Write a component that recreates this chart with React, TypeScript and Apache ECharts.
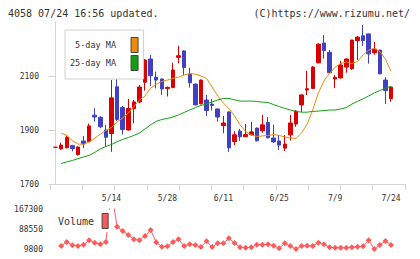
import { useEffect, useRef } from "react";
import * as echarts from "echarts";

// Trading days shown on the chart (one per candle)
const dates = [
  "4/25", "4/26", "4/30", "5/1", "5/2", "5/7", "5/8", "5/9", "5/10", "5/13",
  "5/14", "5/15", "5/16", "5/17", "5/20", "5/21", "5/22", "5/23", "5/24", "5/27",
  "5/28", "5/29", "5/30", "5/31", "6/3", "6/4", "6/5", "6/6", "6/7", "6/10",
  "6/11", "6/12", "6/13", "6/14", "6/17", "6/18", "6/19", "6/20", "6/21", "6/24",
  "6/25", "6/26", "6/27", "6/28", "7/1", "7/2", "7/3", "7/4", "7/5", "7/8",
  "7/9", "7/10", "7/11", "7/12", "7/16", "7/17", "7/18", "7/19", "7/22", "7/23",
  "7/24",
];
const labelledDates = ["5/14", "5/28", "6/11", "6/25", "7/9", "7/24"];

// open, close, low, high
const ohlc: number[][] = [
  [1836, 1836, 1836, 1836], [1830, 1844, 1827, 1853], [1834, 1872, 1832, 1880],
  [1842, 1831, 1821, 1845], [1809, 1837, 1805, 1839], [1859, 1849, 1833, 1878],
  [1857, 1915, 1854, 1924], [1955, 1948, 1931, 1981], [1947, 1912, 1907, 1951],
  [1900, 1873, 1840, 1919], [1887, 2019, 1819, 2085], [2060, 1939, 1933, 2104],
  [1983, 1902, 1883, 1989], [1900, 1980, 1898, 2015], [1979, 2004, 1925, 2011],
  [2004, 2059, 1999, 2067], [2077, 2159, 2046, 2163], [2163, 2101, 2063, 2178],
  [2095, 2085, 2054, 2116], [2089, 2052, 2030, 2091], [2054, 2058, 2024, 2061],
  [2057, 2122, 2055, 2149], [2169, 2175, 2147, 2212], [2193, 2131, 2103, 2195],
  [2107, 2075, 2057, 2131], [2070, 1993, 1991, 2072], [1997, 2085, 1995, 2087],
  [2011, 1972, 1952, 2030], [1996, 1991, 1972, 2015], [1978, 1948, 1931, 1980],
  [1916, 1926, 1888, 1952], [1967, 1834, 1819, 1969], [1857, 1882, 1844, 1896],
  [1896, 1875, 1860, 1904], [1875, 1883, 1874, 1922], [1882, 1893, 1880, 1930],
  [1907, 1860, 1858, 1910], [1897, 1919, 1890, 1956], [1928, 1871, 1870, 1948],
  [1870, 1856, 1852, 1919], [1859, 1844, 1826, 1881], [1833, 1848, 1822, 1881],
  [1882, 1926, 1861, 1956], [1922, 1970, 1912, 1974], [1993, 2030, 1967, 2032],
  [2048, 2053, 2030, 2119], [2054, 2133, 2052, 2137], [2149, 2218, 2147, 2221],
  [2222, 2194, 2164, 2252], [2188, 2112, 2110, 2196], [2089, 2095, 2055, 2104],
  [2093, 2141, 2090, 2156], [2133, 2163, 2112, 2165], [2127, 2233, 2122, 2234],
  [2231, 2244, 2159, 2248], [2249, 2231, 2211, 2289], [2256, 2182, 2146, 2257],
  [2186, 2200, 2179, 2226], [2196, 2108, 2106, 2197], [2085, 2046, 1996, 2096],
  [2016, 2059, 2005, 2063],
];

const ma5: (number | null)[] = [
  null, 1888, 1880, 1861, 1848, 1847, 1856, 1869, 1885, 1898,
  1909, 1930, 1944, 1963, 1987, 2011, 2026, 2056, 2069, 2080,
  2085, 2091, 2096, 2104, 2109, 2107, 2100, 2091, 2059, 2026,
  2000, 1980, 1952, 1919, 1894, 1882, 1876, 1878, 1880, 1883,
  1880, 1874, 1870, 1869, 1889, 1922, 1974, 2037, 2082, 2109,
  2133, 2146, 2152, 2146, 2154, 2178, 2196, 2202, 2191, 2163,
  2117,
];

const ma25: (number | null)[] = [
  null, 1776, 1782, 1787, 1794, 1800, 1806, 1817, 1830, 1839,
  1846, 1857, 1865, 1872, 1880, 1889, 1904, 1919, 1932, 1939,
  1943, 1948, 1956, 1965, 1974, 1983, 1991, 1996, 2004, 2011,
  2017, 2017, 2012, 2007, 2007, 2007, 2006, 2003, 2002, 1994,
  1987, 1980, 1974, 1969, 1966, 1966, 1969, 1970, 1972, 1974,
  1974, 1978, 1983, 1996, 2006, 2015, 2026, 2037, 2046, 2056,
  2061,
];

const volume: (number | null)[] = [
  null, 21600, 37400, 24400, 21600, 26700, 44100, 34600, 28300, 37400,
  237000, 97600, 80700, 64900, 48000, 44100, 61000, 84600, 36200, 18900,
  20400, 37400, 48000, 21600, 28300, 25600, 17700, 40100, 17700, 32200,
  32200, 51900, 33400, 16500, 14900, 16500, 26700, 26700, 28300, 22800,
  12600, 32200, 21600, 9800, 21600, 22800, 21600, 34600, 28300, 16500,
  14900, 14900, 14900, 16500, 18900, 20400, 44100, 9800, 25600, 41300,
  25600,
];

const priceTicks = [1700, 1900, 2100];
const volumeTicks = [9800, 88550, 167300];

const FONT = "'DejaVu Sans Mono', 'Liberation Mono', monospace";
const RED = "#d80000";
const BLUE = "#4040c0";
const ORANGE = "#f08a0a";
const GREEN = "#12a012";
const VOL = "#ff5a5a";
const AXIS = "#d4d4d4";
const TEXT = "#333";

// candle slots: one unit per trading day, with a little room on both sides
const X_MIN = -1;
const X_MAX = 62.5;

const plain = (v: number) => String(v);

export default function App() {
  const ref = useRef<HTMLDivElement>(null);

  useEffect(() => {
    if (!ref.current) return;
    const chart = echarts.init(ref.current, null, { renderer: "svg" });

    const option: any = {
      animation: false,
      backgroundColor: "#fff",
      textStyle: { fontFamily: FONT },
      title: [
        {
          text: "4058 07/24 16:56 updated.",
          left: 8,
          top: 8,
          padding: 0,
          textStyle: { fontFamily: FONT, fontSize: 10, fontWeight: "normal", color: TEXT },
        },
        {
          text: "(C)https://www.rizumu.net/",
          right: 10,
          top: 8,
          padding: 0,
          textStyle: { fontFamily: FONT, fontSize: 10, fontWeight: "normal", color: TEXT },
        },
      ],
      legend: [
        {
          data: [
            { name: "5-day MA", itemStyle: { color: ORANGE } },
            { name: "25-day MA", itemStyle: { color: GREEN } },
          ],
          left: 65,
          top: 30,
          orient: "vertical",
          align: "right",
          icon: "rect",
          itemWidth: 7,
          itemHeight: 15,
          itemGap: 2,
          padding: [7, 5, 8, 5],
          backgroundColor: "#fff",
          borderColor: "#d0d0d0",
          borderWidth: 1,
          selectedMode: false,
          itemStyle: { borderColor: "#444", borderWidth: 1 },
          textStyle: { fontFamily: FONT, fontSize: 8.5, color: TEXT, padding: [0, 10, 0, 0] },
        },
        {
          data: [{ name: "Volume", itemStyle: { color: VOL } }],
          left: 55,
          top: 210,
          orient: "vertical",
          align: "right",
          icon: "rect",
          itemWidth: 6,
          itemHeight: 15,
          padding: [3, 3, 3, 3],
          backgroundColor: "#fff",
          selectedMode: false,
          itemStyle: { borderColor: "#444", borderWidth: 1 },
          textStyle: { fontFamily: FONT, fontSize: 10, color: TEXT, padding: [0, 3, 0, 0] },
        },
      ],
      grid: [
        { left: 50, width: 355, top: 22, height: 162 },
        { left: 50, width: 355, top: 209, height: 40 },
      ],
      xAxis: [
        {
          gridIndex: 0,
          type: "value",
          min: X_MIN,
          max: X_MAX,
          position: "bottom",
          axisLine: { show: true, lineStyle: { color: AXIS, width: 1 } },
          axisTick: { show: false },
          axisLabel: { show: false },
          splitLine: { show: false },
        },
        {
          gridIndex: 0,
          type: "value",
          min: 0,
          max: 11,
          interval: 1,
          position: "bottom",
          axisLine: { show: false },
          axisTick: { show: true, length: 6, lineStyle: { color: AXIS, width: 1 } },
          axisLabel: { show: false },
          splitLine: { show: false },
        },
        {
          gridIndex: 1,
          type: "value",
          min: X_MIN,
          max: X_MAX,
          interval: 1,
          position: "top",
          axisLine: { show: false },
          axisTick: { show: false },
          splitLine: { show: false },
          axisLabel: {
            margin: 7,
            fontFamily: FONT,
            fontSize: 8,
            color: TEXT,
            showMinLabel: false,
            showMaxLabel: false,
            formatter: (v: number) => {
              const d = Number.isInteger(v) ? dates[v] : undefined;
              return d && labelledDates.includes(d) ? d : "";
            },
          },
        },
      ],
      yAxis: [
        {
          gridIndex: 0,
          type: "value",
          min: 1700,
          max: 2300,
          axisLine: { show: true, lineStyle: { color: AXIS, width: 1 } },
          axisTick: { show: true, length: 7, customValues: priceTicks, lineStyle: { color: AXIS, width: 1 } },
          axisLabel: { customValues: priceTicks, formatter: plain, margin: 11, fontFamily: FONT, fontSize: 8, color: TEXT },
          splitLine: { show: false },
        },
        {
          gridIndex: 1,
          type: "value",
          min: 9800,
          max: 167300,
          axisLine: { show: false },
          axisTick: { show: false },
          axisLabel: { customValues: volumeTicks, formatter: plain, margin: 7, fontFamily: FONT, fontSize: 8, color: TEXT },
          splitLine: { show: false },
        },
      ],
      series: [
        {
          type: "candlestick",
          name: "Price",
          xAxisIndex: 0,
          yAxisIndex: 0,
          barWidth: 4,
          data: ohlc.map((d, i) => [i, d[0], d[1], d[2], d[3]]),
          itemStyle: {
            color: RED,
            color0: BLUE,
            borderColor: RED,
            borderColor0: BLUE,
            borderColorDoji: RED,
            borderWidth: 1,
          },
        },
        {
          type: "line",
          name: "5-day MA",
          xAxisIndex: 0,
          yAxisIndex: 0,
          data: ma5.map((v, i) => [i, v]),
          symbol: "none",
          lineStyle: { color: ORANGE, width: 1 },
          itemStyle: { color: ORANGE },
        },
        {
          type: "line",
          name: "25-day MA",
          xAxisIndex: 0,
          yAxisIndex: 0,
          data: ma25.map((v, i) => [i, v]),
          symbol: "none",
          lineStyle: { color: GREEN, width: 1 },
          itemStyle: { color: GREEN },
        },
        {
          type: "line",
          name: "Volume",
          xAxisIndex: 2,
          yAxisIndex: 1,
          data: volume.map((v, i) => [i, v]),
          symbol: "diamond",
          symbolSize: 6,
          lineStyle: { color: VOL, width: 1 },
          itemStyle: { color: VOL },
        },
      ],
    };

    chart.setOption(option);
    return () => chart.dispose();
  }, []);

  return (
    <div
      ref={ref}
      style={{ position: "fixed", left: 0, top: 0, width: 420, height: 259 }}
    />
  );
}
